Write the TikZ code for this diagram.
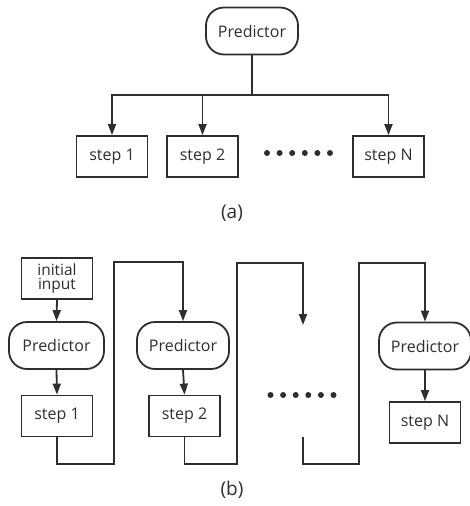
\documentclass[tikz,border=0pt]{standalone}
\usepackage{fontspec}
\setmainfont{Open Sans}
\usetikzlibrary{arrows.meta}
\definecolor{ink}{HTML}{2E2E2E}
\tikzset{
  conn/.style={draw=ink, line width=1.8pt},
  arr/.style={conn, -{Triangle[width=8pt,length=11pt]}},
  pred/.style={draw=ink, line width=1.8pt, rounded corners=18pt, minimum width=92pt, minimum height=47pt, inner sep=0pt, text=ink, font=\fontsize{16}{18}\selectfont},
  sbox/.style={draw=ink, line width=1.8pt, minimum width=71pt, minimum height=41pt, inner sep=0pt, text=ink, font=\fontsize{16}{18}\selectfont},
  captext/.style={text=ink, font=\fontsize{19}{21}\selectfont}
}
\begin{document}
\begin{tikzpicture}[x=1pt,y=-1pt]
\useasboundingbox (0,0) rectangle (470,506);
% (a)
\node[pred] (pa) at (252,31) {Predictor};
\node[sbox] (a1) at (112,156.5) {step 1};
\node[sbox] (a2) at (202.5,156.5) {step 2};
\node[sbox] (aN) at (388.5,156.5) {step N};
\coordinate (jn) at (252,95);
\draw[conn] (pa.south) -- (jn);
\draw[arr] (jn) -| (a1.north);
\draw[arr] (jn) -| (a2.north);
\draw[arr] (jn) -| (aN.north);
\foreach \i in {0,...,5} \fill[ink] (267+12.6*\i,153) circle (3pt);
\node[captext] (la) at (232,213) {(a)};
% (b)
\node[sbox, align=center, font=\fontsize{15.5}{16}\selectfont] (ii) at (57,278.5) {initial\\[-2pt]input};
\node[pred, minimum width=95pt] (p1) at (56.5,345.5) {Predictor};
\node[sbox] (b1) at (57,416) {step 1};
\node[pred] (p2) at (183,345.5) {Predictor};
\node[sbox] (b2) at (184.5,416) {step 2};
\node[pred] (pN) at (425,346) {Predictor};
\node[sbox] (bN) at (425,422.5) {step N};
\coordinate (m3) at (303,325);
\coordinate (m4) at (303,437);
\draw[arr] (ii.south) -- (p1.north);
\draw[arr] (p1.south) -- (b1.north);
\draw[arr] (p2.south) -- (b2.north);
\draw[arr] (pN.south) -- (bN.north);
\draw[arr] (b1.south) |- (114,464) |- (183,262) -- (p2.north);
\draw[arr] (b2.south) |- (237,464) |- (303,263) -- (m3);
\draw[arr] (m4) |- (359,464) |- (425,263) -- (pN.north);
\foreach \i in {0,...,5} \fill[ink] (270.5+12.6*\i,395) circle (3pt);
\node[captext] (lb) at (232,490) {(b)};
\end{tikzpicture}
\end{document}
